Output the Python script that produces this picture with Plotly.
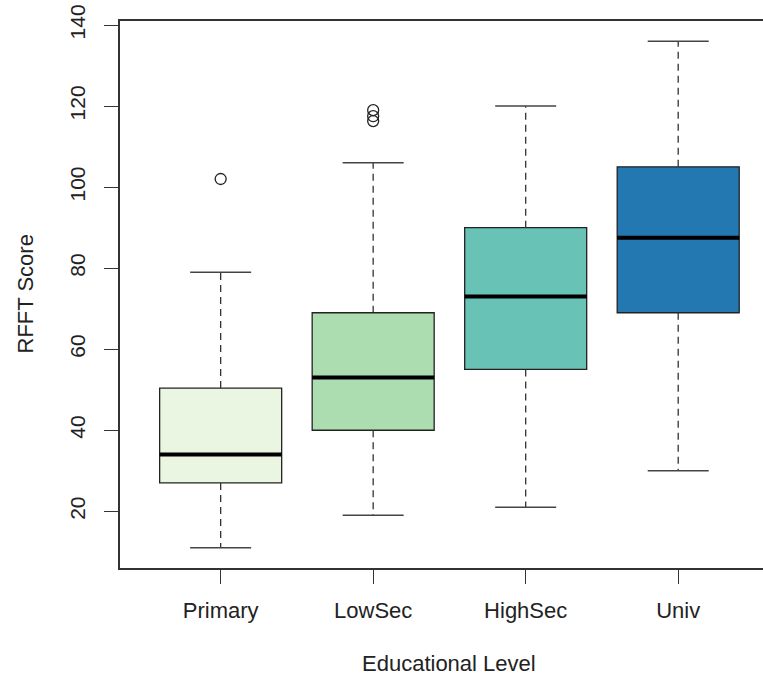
import plotly.graph_objects as go

categories = ["Primary", "LowSec", "HighSec", "Univ"]
lower_whisker = [11, 19, 21, 30]
q1 = [27, 40, 55, 69]
median = [34, 53, 73, 87.5]
q3 = [50.4, 69, 90, 105]
upper_whisker = [79, 106, 120, 136]
outliers = [[102], [119, 117.5, 116.3], [], []]
fill_colors = ["#EAF5E2", "#ABDDB0", "#68C2B5", "#2378B1"]
y_ticks = [20, 40, 60, 80, 100, 120, 140]

xpos = list(range(1, len(categories) + 1))
box_w = 0.8
cap_half = 0.2
FONT = "Liberation Sans, Arial, Helvetica, sans-serif"
FS = 22

fig = go.Figure()

# whiskers (dashed)
wx, wy = [], []
for i, c in enumerate(xpos):
    wx += [c, c, None, c, c, None]
    wy += [q3[i], upper_whisker[i], None, q1[i], lower_whisker[i], None]
fig.add_trace(go.Scatter(x=wx, y=wy, mode="lines",
                         line=dict(color="#333333", width=1.3, dash="7px,5px"),
                         hoverinfo="skip", showlegend=False))
# caps
cx, cy = [], []
for i, c in enumerate(xpos):
    cx += [c - cap_half, c + cap_half, None, c - cap_half, c + cap_half, None]
    cy += [upper_whisker[i], upper_whisker[i], None, lower_whisker[i], lower_whisker[i], None]
fig.add_trace(go.Scatter(x=cx, y=cy, mode="lines",
                         line=dict(color="#444444", width=1.5),
                         hoverinfo="skip", showlegend=False))

# boxes
for i, c in enumerate(xpos):
    fig.add_trace(go.Box(x=[c], q1=[q1[i]], median=[median[i]], q3=[q3[i]],
                         lowerfence=[q1[i]], upperfence=[q3[i]],
                         width=box_w, fillcolor=fill_colors[i],
                         line=dict(color="#222222", width=1.3),
                         whiskerwidth=0, boxpoints=False,
                         name=categories[i], showlegend=False))

# medians (thick)
mx, my = [], []
for i, c in enumerate(xpos):
    mx += [c - box_w / 2, c + box_w / 2, None]
    my += [median[i], median[i], None]
fig.add_trace(go.Scatter(x=mx, y=my, mode="lines",
                         line=dict(color="#000000", width=4),
                         hoverinfo="skip", showlegend=False))

# outliers
ox, oy = [], []
for i, c in enumerate(xpos):
    for v in outliers[i]:
        ox.append(c)
        oy.append(v)
fig.add_trace(go.Scatter(x=ox, y=oy, mode="markers",
                         marker=dict(symbol="circle-open", size=11,
                                     color="#222222", line=dict(width=1.3)),
                         hoverinfo="skip", showlegend=False))

fig.update_layout(
    width=763, height=676,
    margin=dict(l=120, r=0, t=21, b=108, autoexpand=False),
    plot_bgcolor="white", paper_bgcolor="white",
    font=dict(family=FONT, size=FS, color="#222222"),
    showlegend=False,
    xaxis=dict(range=[0.34, 4.556], tickvals=xpos, ticktext=categories,
               showgrid=False, zeroline=False, showline=True, mirror=True,
               linecolor="#333333", linewidth=1.5, ticks="outside",
               ticklen=14, tickcolor="#333333", tickwidth=1.3,
               ticklabelstandoff=8, fixedrange=True, automargin=False),
    yaxis=dict(range=[6, 141], tickvals=y_ticks,
               showgrid=False, zeroline=False, showline=True,
               linecolor="#333333", linewidth=1.5, ticks="outside",
               ticklen=14, tickcolor="#333333", tickwidth=1.3,
               tickfont=dict(family=FONT, size=21, color="#222222"),
               tickangle=-90, ticklabelstandoff=11, fixedrange=True,
               ticklabeloverflow="allow", automargin=False),
    annotations=[
        dict(text="Educational Level", xref="x", x=2.5, yref="paper", y=0,
             yshift=-95, yanchor="middle", xanchor="center", showarrow=False,
             font=dict(family=FONT, size=FS, color="#222222")),
        dict(text="RFFT Score", xref="paper", x=0, xshift=-95, xanchor="center",
             yref="paper", y=0.5, yanchor="middle", textangle=-90, showarrow=False,
             font=dict(family=FONT, size=FS, color="#222222")),
    ],
)

# remove the browser's default 8px page margin so the figure fills the window
fig.write_html("out.html",
               config={"displayModeBar": False},
               post_script="document.body.style.margin='0px';")
